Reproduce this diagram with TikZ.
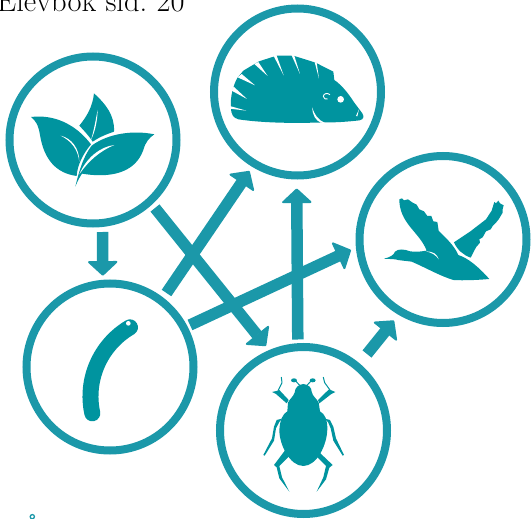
\documentclass[tikz,border=0pt]{standalone}
\usetikzlibrary{arrows.meta}
\definecolor{ringc}{HTML}{1B98A9}
\definecolor{iconc}{HTML}{00949F}
\tikzset{
  x=1pt,y=-1pt,
  ringnode/.style={circle,draw=ringc,line width=8pt,inner sep=0pt,minimum size=167pt,fill=white},
  linkarrow/.style={draw=ringc,line width=11.5pt,-{Triangle[length=15pt,width=32pt,round,line width=2pt,color=ringc]}},
  icon/.style={fill=iconc,draw=none},
  gap/.style={fill=white,draw=none},
  zoomed/.style={x=0.3333pt,y=-0.3333pt},
  leg/.style={draw=iconc,line join=round,line cap=round}
}
\begin{document}
\begin{tikzpicture}
\useasboundingbox (0,0) rectangle (531,519);
\node[anchor=base west,inner sep=0pt] (title) at (-3,11.5) {\fontsize{30.5}{32}\selectfont Elevbok sid.\ 20};
% rings
\node[ringnode] (leaf) at (93,140) {};
\node[ringnode] (hog) at (297.5,92) {};
\node[ringnode] (duck) at (443,239.5) {};
\node[ringnode] (beetle) at (303.5,430.5) {};
\node[ringnode] (worm) at (110,367) {};
\node[circle,draw=ringc,line width=1.3pt,inner sep=0pt,minimum size=4.2pt] (ringdot) at (32.3,516.7) {};
% connector ends
\coordinate (a1s) at (102.5,232);  \coordinate (a1e) at (102.8,275.7);
\coordinate (a2s) at (166.5,293);  \coordinate (a2e) at (249.5,171);
\coordinate (a3s) at (155,208);    \coordinate (a3e) at (266,346);
\coordinate (a4s) at (190,325);    \coordinate (a4e) at (351,250);
\coordinate (a5s) at (297.8,339.5);\coordinate (a5e) at (296.7,188.5);
\coordinate (a6s) at (367,354);    \coordinate (a6e) at (394,320.5);
\foreach \s/\e in {a1s/a1e,a2s/a2e,a3s/a3e,a4s/a4e,a5s/a5e,a6s/a6e}
  \draw[linkarrow] (\s) -- (\e);
% leaf icon
\begin{scope}[shift={(20,85)},zoomed]
  \path[icon] (33,96) .. controls (100,88) and (165,115) .. (213,178)
    .. controls (190,205) and (172,240) .. (170,273)
    .. controls (110,265) and (72,225) .. (60,150)
    .. controls (55,120) and (48,108) .. (33,96) -- cycle;
  \path[gap] (122,152) .. controls (155,160) and (178,190) .. (178,230)
    .. controls (174,195) and (155,168) .. (122,152) -- cycle;
  \path[icon] (222,25) .. controls (255,55) and (285,90) .. (282,140)
    .. controls (258,148) and (235,158) .. (218,170)
    .. controls (205,150) and (190,135) .. (178,122)
    .. controls (200,95) and (218,65) .. (222,25) -- cycle;
  \path[gap] (233,75) .. controls (232,110) and (225,140) .. (213,165)
    .. controls (222,135) and (226,110) .. (233,75) -- cycle;
  \path[icon] (403,148) .. controls (340,135) and (265,145) .. (215,182)
    .. controls (190,215) and (178,255) .. (166,305)
    .. controls (172,290) and (178,278) .. (186,266)
    .. controls (270,280) and (345,265) .. (370,195)
    .. controls (376,172) and (388,158) .. (403,148) -- cycle;
  \path[gap] (283,180) .. controls (240,185) and (198,220) .. (178,268)
    .. controls (205,228) and (240,198) .. (283,180) -- cycle;
\end{scope}
% hedgehog icon
\begin{scope}[shift={(225,50)},zoomed]
  \path[icon] (18,172) .. controls (15,140) and (25,105) .. (37,84)
    -- (55,62) -- (102,34) -- (155,17) -- (205,17) -- (272,38) -- (325,65) -- (328,90)
    .. controls (350,105) and (370,130) .. (388,158)
    -- (412,190) .. controls (418,200) and (416,208) .. (404,211)
    .. controls (370,215) and (330,218) .. (300,217)
    .. controls (220,220) and (120,220) .. (40,208)
    .. controls (25,203) and (18,195) .. (18,172) -- cycle;
  \path[gap] (14,168) -- (64,182) -- (14,176) -- cycle;
  \path[gap] (20,122) -- (26,110) -- (66,147) -- cycle;
  \path[gap] (38,82) -- (50,72) -- (90,106) -- cycle;
  \path[gap] (88,42) -- (100,36) -- (128,78) -- cycle;
  \path[gap] (145,16) -- (154,14) -- (176,76) -- cycle;
  \path[gap] (199,14) -- (207,14) -- (225,72) -- cycle;
  \path[gap] (269,36) -- (275,38) -- (282,86) -- cycle;
  \path[gap] (262,172) .. controls (262,195) and (272,212) .. (288,218)
    -- (300,219) .. controls (280,210) and (268,195) .. (262,172) -- cycle;
  \path[gap] (402,178) -- (393,198) -- (397,199) -- cycle;
  \path[gap] (347,148) circle[radius=10];
  \draw[white,line width=0.9pt] (315,134) .. controls (308,128) and (296,130) .. (295,139)
    .. controls (295,146) and (303,149) .. (308,147);
\end{scope}
% duck icon
\begin{scope}[shift={(380,190)},zoomed]
  \path[icon] (222,157) -- (270,125) -- (318,88) -- (335,62) -- (343,36) -- (348,40) -- (355,32)
    -- (360,40) -- (371,46) -- (368,58) -- (368,68) -- (356,88) -- (348,98) -- (338,108) -- (332,118) -- (318,124) -- (308,142)
    -- (298,148) -- (300,158) -- (288,172) -- (272,203)
    .. controls (250,195) and (232,180) .. (222,157) -- cycle;
  \path[icon] (58,28) -- (66,25) -- (72,31) -- (84,28) -- (98,38) -- (110,44) -- (118,58) -- (132,64)
    -- (142,78) -- (154,78) -- (160,94) -- (172,96) -- (176,122)
    .. controls (198,145) and (222,165) .. (235,195)
    .. controls (265,205) and (295,230) .. (328,267)
    .. controls (295,270) and (250,272) .. (220,270)
    .. controls (180,258) and (135,232) .. (95,215)
    .. controls (75,212) and (60,212) .. (45,208)
    .. controls (35,206) and (25,208) .. (12,206)
    .. controls (30,202) and (42,195) .. (45,185)
    .. controls (55,175) and (75,178) .. (90,184)
    .. controls (110,187) and (125,184) .. (140,182)
    .. controls (130,155) and (110,135) .. (90,110)
    .. controls (70,85) and (58,60) .. (58,28) -- cycle;
  \path[gap] (138,184) .. controls (158,184) and (172,192) .. (176,208)
    .. controls (168,195) and (155,188) .. (138,184) -- cycle;
\end{scope}
% worm icon
\begin{scope}[shift={(0,270)},zoomed]
  \draw[iconc,line width=16pt,line cap=round] (277,430)
    .. controls (255,330) and (300,225) .. (390,172);
  \path[gap] (385,160) circle[radius=7];
\end{scope}
% beetle icon
\begin{scope}[shift={(260,370)},zoomed]
  % body
  \path[icon] (130,42) .. controls (115,44) and (105,52) .. (104,68)
    .. controls (100,80) and (88,88) .. (84,98) -- (82,124)
    .. controls (68,132) and (60,150) .. (58,180)
    .. controls (58,225) and (90,288) .. (130,288)
    .. controls (170,288) and (202,225) .. (202,175)
    .. controls (202,150) and (195,132) .. (180,124) -- (176,98)
    .. controls (170,85) and (158,80) .. (155,65)
    .. controls (155,52) and (145,44) .. (130,42) -- cycle;
  % antennae
  \draw[leg,line width=1pt] (119,46) -- (108,34);
  \draw[leg,line width=1pt] (141,46) -- (152,34);
  \path[icon] (102,31) ellipse[x radius=9,y radius=6];
  \path[icon] (158,31) ellipse[x radius=9,y radius=6];
  % front legs
  \path[icon] (86,90) -- (58,60) -- (54,62) -- (36,66) -- (48,72) -- (80,100) -- cycle;
  \path[icon] (174,90) -- (207,58) -- (212,60) -- (226,66) -- (214,72) -- (178,100) -- cycle;
  \draw[leg,line width=1pt] (54,62) -- (66,38) -- (64,22);
  \draw[leg,line width=1pt] (210,60) -- (194,38) -- (190,22);
  % middle legs
  \path[icon] (66,146) -- (50,150) -- (42,170) -- (36,205) -- (10,255) -- (14,257) -- (42,212) -- (48,175) -- (58,156) -- cycle;
  \path[icon] (194,146) -- (210,150) -- (220,170) -- (228,205) -- (252,255) -- (248,257) -- (220,212) -- (212,175) -- (204,156) -- cycle;
  % hind legs
  \path[icon] (76,240) -- (42,285) -- (50,292) -- (58,325) -- (88,365) -- (66,322) -- (58,288) -- (88,258) -- cycle;
  \path[icon] (176,245) -- (218,285) -- (208,293) -- (198,328) -- (170,365) -- (190,322) -- (198,288) -- (168,258) -- cycle;
\end{scope}
\end{tikzpicture}
\end{document}
